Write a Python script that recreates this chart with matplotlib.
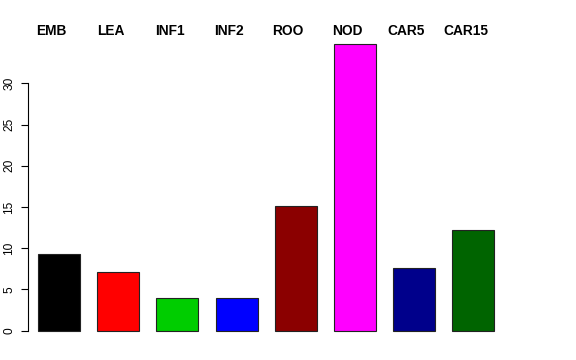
import matplotlib
matplotlib.use("Agg")
import matplotlib.pyplot as plt
import numpy as np

categories = ["EMB", "LEA", "INF1", "INF2", "ROO", "NOD", "CAR5", "CAR15"]
values = [9.3, 7.1, 4.0, 4.0, 15.1, 34.8, 7.6, 12.2]
colors = ["#000000", "#FF0000", "#00CD00", "#0000FF", "#8B0000", "#FF00FF", "#00008B", "#006400"]
yticks = [0, 5, 10, 15, 20, 25, 30]

plt.rcParams['font.family'] = ['Liberation Sans', 'DejaVu Sans']

W, H = 576, 360
fig = plt.figure(figsize=(W / 100, H / 100), dpi=100)
ax = fig.add_axes([28 / W, 0, 1 - 28 / W, 1])

x = np.arange(len(categories))
ax.bar(x, values, width=0.71, color=colors, edgecolor="#222222", linewidth=0.8)

px_per_x = 59.2
x0_px = 59.0
ax.set_xlim(-(x0_px - 28) / px_per_x, (W - x0_px) / px_per_x)
px_per_y = 8.24
y0_px = 330.5
ax.set_ylim(-(H - y0_px) / px_per_y, y0_px / px_per_y)

for s in ["top", "right", "bottom"]:
    ax.spines[s].set_visible(False)
ax.spines["left"].set_bounds(0, 30)
ax.spines["left"].set_linewidth(0.8)
ax.set_xticks([])
ax.set_yticks(yticks)
ax.set_yticklabels([str(t) for t in yticks], rotation=90, va="center", fontsize=8.6)
ax.tick_params(axis="y", length=5.2, width=0.8, pad=4.0)

label_shift = -7.8 / px_per_x
for xi, name in zip(x, categories):
    ax.text(xi + label_shift, (H - 31) / H, name, transform=ax.get_xaxis_transform(),
            ha="center", va="center", fontsize=9.9, fontweight="bold")

fig.savefig("out.png", dpi=100)
